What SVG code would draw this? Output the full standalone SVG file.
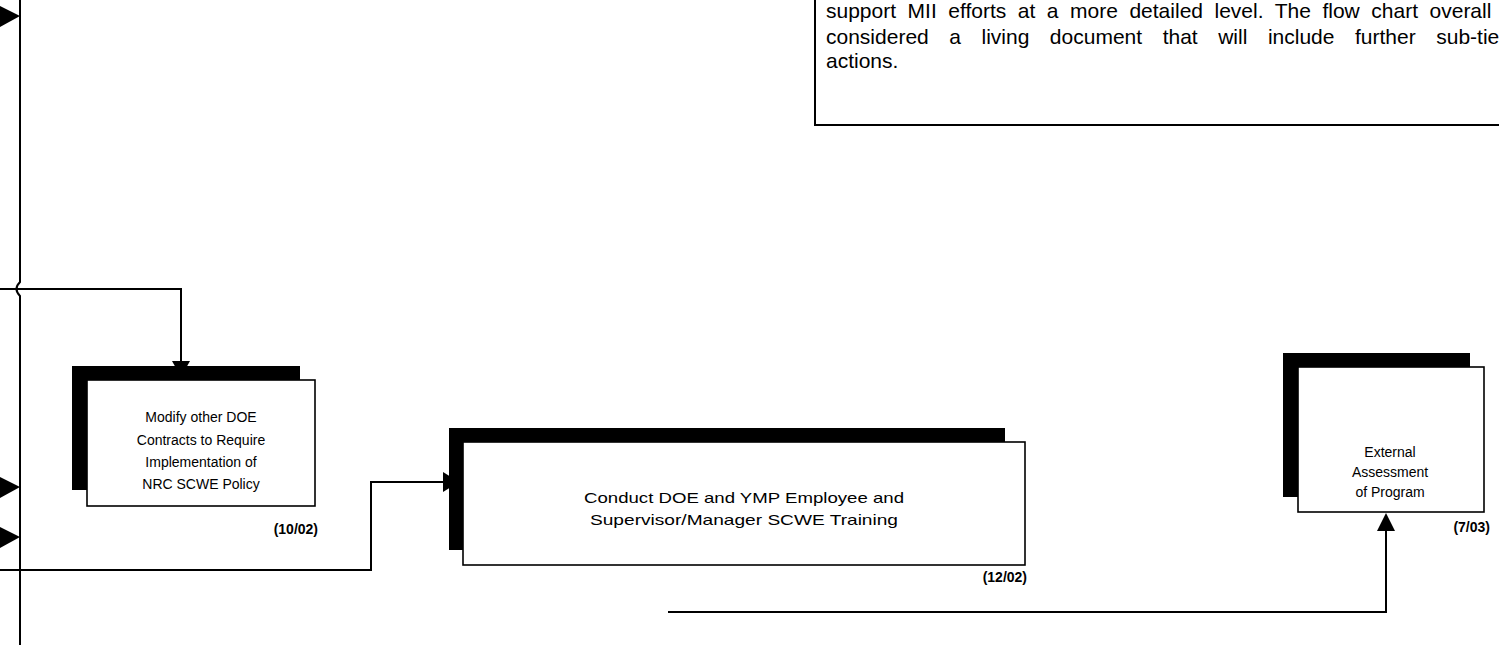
<svg xmlns="http://www.w3.org/2000/svg" width="1499" height="645" viewBox="0 0 1499 645">
<style>
.ln{fill:none;stroke:#000;stroke-width:2}
.sh{fill:#000}
.bx{fill:#fff;stroke:#000;stroke-width:1.6}
.t{font-family:"Liberation Sans",Arial,sans-serif;font-size:14px;fill:#000;text-anchor:middle}
.d{font-family:"Liberation Sans",Arial,sans-serif;font-size:14px;font-weight:bold;fill:#000;text-anchor:end}
.n{font-family:"Liberation Sans",Arial,sans-serif;font-size:21px;fill:#000}
.ah{fill:#000}
</style>
<rect width="1499" height="645" fill="#fff"/>
<g id="note">
<rect x="815" y="-5" width="700" height="130" fill="#fff" stroke="#000" stroke-width="2"/>
<text class="n" x="826" y="18" word-spacing="5.7">support MII efforts at a more detailed level. The flow chart overall is</text>
<text class="n" x="826" y="44" word-spacing="14.7">considered a living document that will include further sub-tier</text>
<text class="n" x="826" y="68">actions.</text>
</g>
<g id="connectors">
<path class="ln" d="M20,0 V282 Q13,289 20,296 V645"/>
<path class="ah" d="M0,6 L20,16 L0,27 Z"/>
<path class="ah" d="M0,477 L20,487 L0,498 Z"/>
<path class="ah" d="M0,527 L20,537 L0,548 Z"/>
<path class="ln" d="M0,289 H181 V366"/>
<path class="ah" d="M172,361 L190,361 L181,377 Z"/>
<path class="ln" d="M0,570 H371 V482 H446"/>
<path class="ah" d="M443,472 L459,482 L443,492 Z"/>
<path class="ln" d="M668,612 H1386 V528"/>
<path class="ah" d="M1377,531 L1395,531 L1386,513 Z"/>
</g>
<g id="modify">
<rect class="sh" x="72" y="366" width="228" height="124"/>
<rect class="bx" x="87" y="380" width="228" height="126"/>
<text class="t" x="201" y="422">Modify other DOE</text>
<text class="t" x="201" y="445">Contracts to Require</text>
<text class="t" x="201" y="467">Implementation of</text>
<text class="t" x="201" y="489">NRC SCWE Policy</text>
<text class="d" x="318" y="534">(10/02)</text>
</g>
<g id="conduct">
<rect class="sh" x="449" y="428" width="556" height="122"/>
<rect class="bx" x="463" y="442" width="562" height="123"/>
<text class="t" x="744" y="503" style="font-size:15px" textLength="320" lengthAdjust="spacingAndGlyphs">Conduct DOE and YMP Employee and</text>
<text class="t" x="744" y="525" style="font-size:15px" textLength="308" lengthAdjust="spacingAndGlyphs">Supervisor/Manager SCWE Training</text>
<text class="d" x="1027" y="582">(12/02)</text>
</g>
<g id="external">
<rect class="sh" x="1283" y="353" width="187" height="144"/>
<rect class="bx" x="1298" y="367" width="186" height="145"/>
<text class="t" x="1390" y="457">External</text>
<text class="t" x="1390" y="477">Assessment</text>
<text class="t" x="1390" y="497">of Program</text>
<text class="d" x="1490" y="532">(7/03)</text>
</g>
</svg>
